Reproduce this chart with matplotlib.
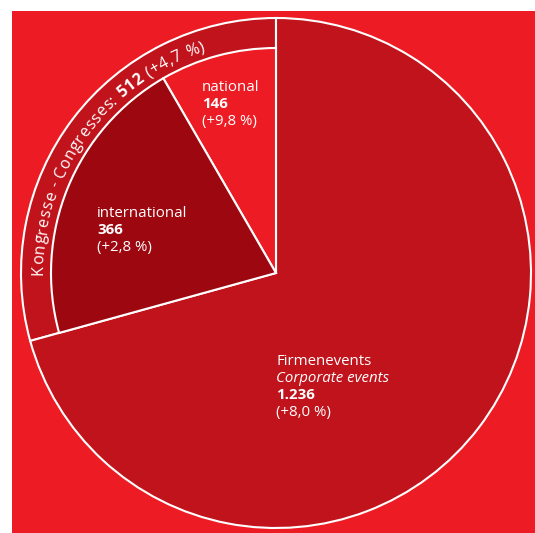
"""
Pie chart of event counts: Firmenevents vs. Kongresse (split into
national / international), drawn on a red panel with a curved ring label.
"""

import numpy as np
import matplotlib.pyplot as plt
from matplotlib.patches import Rectangle
from matplotlib.font_manager import FontProperties

# event counts
firmenevents = 1236
kongresse_national = 146
kongresse_international = 366
kongresse = kongresse_national + kongresse_international

outer_values = [kongresse, firmenevents]
inner_values = [kongresse_national, kongresse_international, firmenevents]

# label texts
firmen_lines = ["Firmenevents", "Corporate events", "1.236", "(+8,0 %)"]
national_lines = ["national", "146", "(+9,8 %)"]
international_lines = ["international", "366", "(+2,8 %)"]
ring_parts = [("Kongresse - Congresses: ", "normal"), ("512", "bold"), (" (+4,7 %)", "normal")]

# colours
BG_RED = "#ED1C24"
MID_RED = "#C1131B"
DARK_RED = "#9D0810"

FONT = "Open Sans"
W, H = 535, 533
CX, CY = 276, H - 273
R_OUTER = 255
R_INNER = 225
R_TEXT = 233

fig = plt.figure(figsize=(W / 100, H / 100), dpi=100)
fig.patch.set_facecolor("white")

ax = fig.add_axes([0, 0, 1, 1])

# red panel behind the pie
ax.add_patch(Rectangle((12, 0), W - 12, H - 11, facecolor=BG_RED,
                       edgecolor="none", zorder=0))

edge = dict(edgecolor="white", linewidth=1.5)

ax.pie(outer_values, radius=R_OUTER, center=(CX, CY), startangle=90,
       colors=[MID_RED, MID_RED], wedgeprops=edge, frame=True)
inner, _ = ax.pie(inner_values, radius=R_INNER, center=(CX, CY), startangle=90,
                  colors=[BG_RED, DARK_RED, MID_RED], wedgeprops=edge, frame=True)
inner[2].set_visible(False)
ax.set_xlim(0, W)
ax.set_ylim(0, H)
ax.axis("off")

label_size = 10.8


def block(x, y0, lines, styles, step=17):
    for i, (txt, st) in enumerate(zip(lines, styles)):
        ax.text(x, H - (y0 + i * step), txt, color="white", fontsize=label_size,
                family=FONT, ha="left", va="baseline", **st)


plain = {}
bold = {"weight": "bold"}
ital = {"style": "italic"}

block(276, 365, firmen_lines, [plain, ital, bold, plain])
block(202, 91, national_lines, [plain, bold, plain])
block(97, 217, international_lines, [plain, bold, plain])

# curved label along the Kongresse ring
renderer = fig.canvas.get_renderer()
ring_size = 11.5
tracking = 0.6


def advance(ch, weight):
    prop = FontProperties(family=FONT, size=ring_size, weight=weight)
    w_in = renderer.get_text_width_height_descent("x" + ch + "x", prop, ismath=False)[0]
    w_out = renderer.get_text_width_height_descent("xx", prop, ismath=False)[0]
    return w_in - w_out + tracking


start_angle = 180.5
pos = 0.0
for part, weight in ring_parts:
    for ch in part:
        adv = advance(ch, weight)
        theta = start_angle - np.degrees((pos + adv / 2) / R_TEXT)
        t = np.radians(theta)
        ax.text(CX + R_TEXT * np.cos(t), CY + R_TEXT * np.sin(t), ch,
                color="white", fontsize=ring_size, family=FONT, weight=weight,
                rotation=theta - 90, rotation_mode="anchor",
                ha="center", va="baseline")
        pos += adv

fig.savefig("out.png", dpi=100, facecolor=fig.get_facecolor())
